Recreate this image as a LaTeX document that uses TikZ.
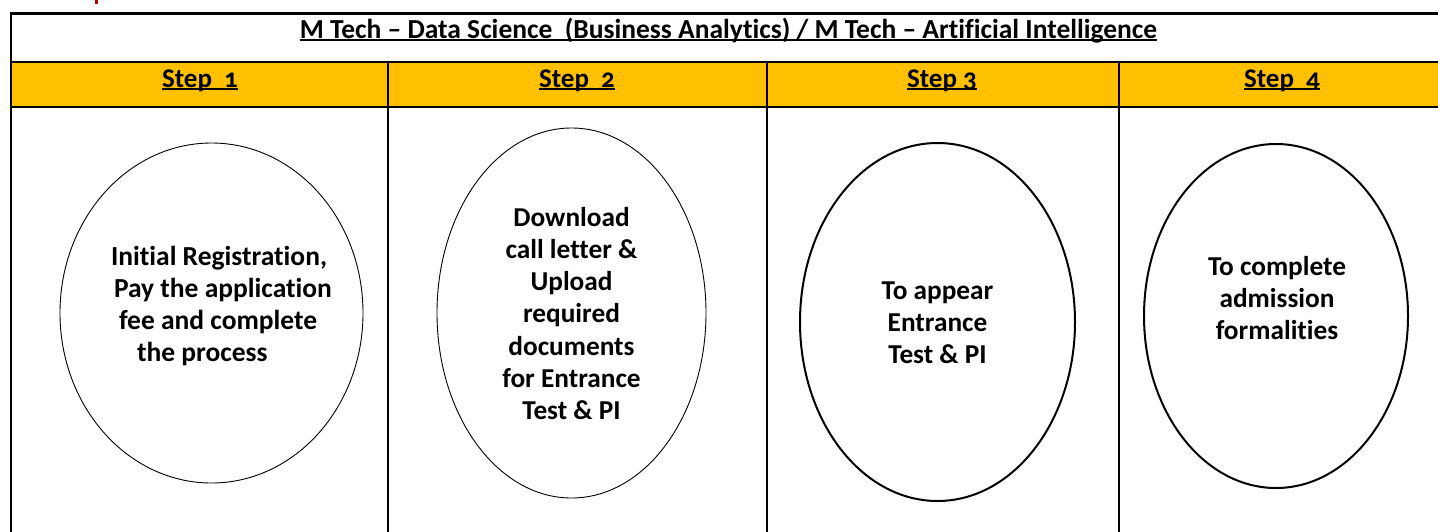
\documentclass[tikz,border=0pt]{standalone}
\usepackage{fontspec}
\setmainfont{Carlito}[Numbers=OldStyle, Ligatures=NoCommon]
\usetikzlibrary{shapes.geometric}
\definecolor{stepyellow}{HTML}{FFC000}
\definecolor{markred}{HTML}{C00000}
\newcommand{\myul}[2][1.8pt]{\setbox0\hbox{#2}\rlap{\rule[-3.2pt]{\wd0}{#1}}\box0}
\begin{document}
\begin{tikzpicture}[x=1pt,y=-1pt,
  every node/.style={inner sep=0pt, outer sep=0pt},
  tabline/.style={line width=2.7pt, black},
  oval/.style={ellipse, draw=black},
  thinoval/.style={oval, line width=0.9pt},
  thickoval/.style={oval, line width=2pt},
  titletext/.style={font=\fontsize{27.5}{30}\selectfont\bfseries, anchor=base},
  steptext/.style={font=\fontsize{27}{32}\selectfont\bfseries, anchor=base},
  bodytext/.style={font=\fontsize{27.3}{32.3}\selectfont\bfseries, align=center, anchor=north},
  bodyleft/.style={font=\fontsize{27.5}{32.3}\selectfont\bfseries, align=left, anchor=north west}]
\useasboundingbox (0,0) rectangle (1438,531);
\clip (0,0) rectangle (1438,531);
% red fragment at the top
\fill[markred] (94.5,0) rectangle (97.5,4);
% step row fill
\fill[stepyellow] (11,62) rectangle (1445,107);
% table frame
\draw[tabline] (11,545) -- (11,13.7) -- (1445,13.7);
\draw[tabline] (11,62) -- (1445,62);
\draw[tabline] (11,107) -- (1445,107);
\draw[tabline] (388,62) -- (388,545);
\draw[tabline] (767,62) -- (767,545);
\draw[tabline] (1119,62) -- (1119,545);
% title
\node[titletext] (title) at (728.5,38) {\myul[2pt]{M Tech – Data Science\ \ (Business Analytics) / M Tech – Artificial Intelligence}};
% step labels
\node[steptext] (s1) at (200,87) {\myul[2.2pt]{Step\ \ 1}};
\node[steptext] (s2) at (577,87) {\myul[2.2pt]{Step\ \ 2}};
\node[steptext] (s3) at (942,87) {\myul[2.2pt]{Step 3}};
\node[steptext] (s4) at (1282,87) {\myul[2.2pt]{Step\ \ 4}};
% ellipses
\node[thinoval, minimum width=303pt, minimum height=340pt] (e1) at (211.5,313) {};
\node[thinoval, minimum width=269pt, minimum height=370pt] (e2) at (571.5,313) {};
\node[thickoval, minimum width=275pt, minimum height=358pt] (e3) at (937.5,322) {};
\node[thickoval, minimum width=264pt, minimum height=344pt] (e4) at (1276,316) {};
% texts
\node[bodyleft] (t1) at (111,243) {\rule{0pt}{22pt}Initial Registration,\\\hspace*{3pt}Pay the application\\\hspace*{8pt}fee and complete\\\hspace*{26pt}the process};
\node[bodytext] (t2) at (571.5,204) {\rule{0pt}{22pt}Download\\call letter \&\\Upload\\required\\documents\\for Entrance\\Test \& PI};
\node[bodytext] (t3) at (937.5,277) {\rule{0pt}{22pt}To appear\\Entrance\\Test \& PI};
\node[bodytext] (t4) at (1277,253) {\rule{0pt}{22pt}To complete\\admission\\formalities};
\end{tikzpicture}
\end{document}
